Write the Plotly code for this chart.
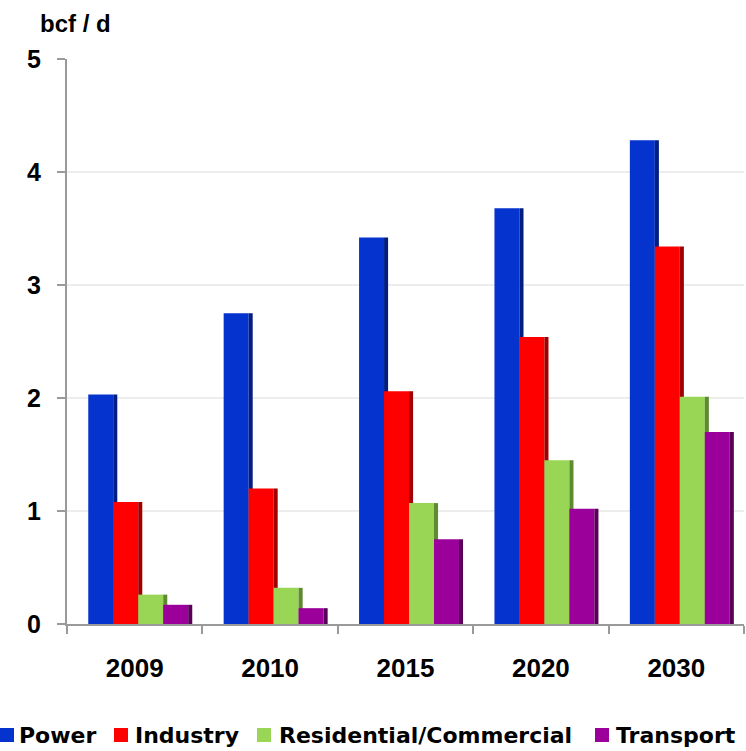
import plotly.graph_objects as go

# ---- data ----
years = ["2009", "2010", "2015", "2020", "2030"]
power = [2.03, 2.75, 3.42, 3.68, 4.28]
industry = [1.08, 1.20, 2.06, 2.54, 3.34]
residential = [0.26, 0.32, 1.07, 1.45, 2.01]
transport = [0.17, 0.14, 0.75, 1.02, 1.70]
series_names = ["Power", "Industry", "Residential/Commercial", "Transport"]
y_ticks = [0, 1, 2, 3, 4, 5]

series_values = [power, industry, residential, transport]
face_colors = ["#0433CE", "#FE0000", "#99D655", "#9B009B"]
edge_colors = ["#021E80", "#A00000", "#5E8A30", "#5A005A"]

W, H = 746, 751
ML, MR, MT, MB = 67, 2, 59, 127
PW, PH = W - ML - MR, H - MT - MB


def px_x(px):
    return (px - ML) / PW


def px_y(py):
    return (H - MB - py) / PH


FONT = "Liberation Sans, Arial, sans-serif"

fig = go.Figure()

base = -0.343
bw = 0.1845
edge_w = 0.03
for i, (name, vals) in enumerate(zip(series_names, series_values)):
    fig.add_trace(go.Bar(
        x=years, y=vals, name=name,
        marker=dict(color=face_colors[i], line=dict(width=0)),
        width=[bw] * len(years), offset=base + i * bw,
        showlegend=False, hoverinfo="x+y+name",
    ))
    fig.add_trace(go.Bar(
        x=years, y=vals, name=name + " edge",
        marker=dict(color=edge_colors[i], line=dict(width=0)),
        width=[edge_w] * len(years), offset=base + (i + 1) * bw,
        showlegend=False, hoverinfo="skip",
    ))

# custom legend (squares + labels)
legend_sq_x = [0, 114, 257, 595]
legend_tx_x = [17, 133, 277, 614]
shapes = []
annotations = []
for i, name in enumerate(series_names):
    shapes.append(dict(
        type="rect", xref="paper", yref="paper",
        x0=px_x(legend_sq_x[i]), x1=px_x(legend_sq_x[i] + 14),
        y0=px_y(742), y1=px_y(728),
        fillcolor=face_colors[i], line=dict(width=0),
    ))
    annotations.append(dict(
        text=f"<b>{name}</b>", xref="paper", yref="paper",
        x=px_x(legend_tx_x[i]), y=px_y(735),
        xanchor="left", yanchor="middle", showarrow=False,
        font=dict(family="DejaVu Sans, sans-serif", size=22, color="black"),
    ))

annotations.append(dict(
    text="<b>bcf / d</b>", xref="paper", yref="paper",
    x=px_x(38), y=px_y(24), xanchor="left", yanchor="middle",
    showarrow=False, font=dict(family=FONT, size=24, color="black"),
))

fig.update_layout(
    width=W, height=H,
    margin=dict(l=ML, r=MR, t=MT, b=MB, pad=0),
    barmode="overlay",
    plot_bgcolor="white", paper_bgcolor="white",
    shapes=shapes, annotations=annotations,
    showlegend=False,
    font=dict(family=FONT, color="black"),
)
fig.update_xaxes(
    type="category", range=[-0.5, 4.5],
    showline=True, linecolor="#9A9A9A", linewidth=2,
    ticks="outside", tickson="boundaries", ticklen=8, tickwidth=2, tickcolor="#9A9A9A",
    tickfont=dict(family=FONT, size=26, color="black"),
    ticktext=[f"<b>{y}</b>" for y in years], tickvals=years,
    ticklabelstandoff=20,
    showgrid=False, fixedrange=True,
)
fig.update_yaxes(
    range=[0, 5], tickvals=y_ticks, ticktext=[f"<b>{v}</b>" for v in y_ticks],
    showline=True, linecolor="#9A9A9A", linewidth=2,
    ticks="outside", ticklen=8, tickwidth=2, tickcolor="#9A9A9A",
    tickfont=dict(family=FONT, size=25, color="black"),
    ticklabelstandoff=11,
    showgrid=True, gridcolor="#EDEDED", gridwidth=2,
    zeroline=False, fixedrange=True,
)

fig.write_html("out.html")
